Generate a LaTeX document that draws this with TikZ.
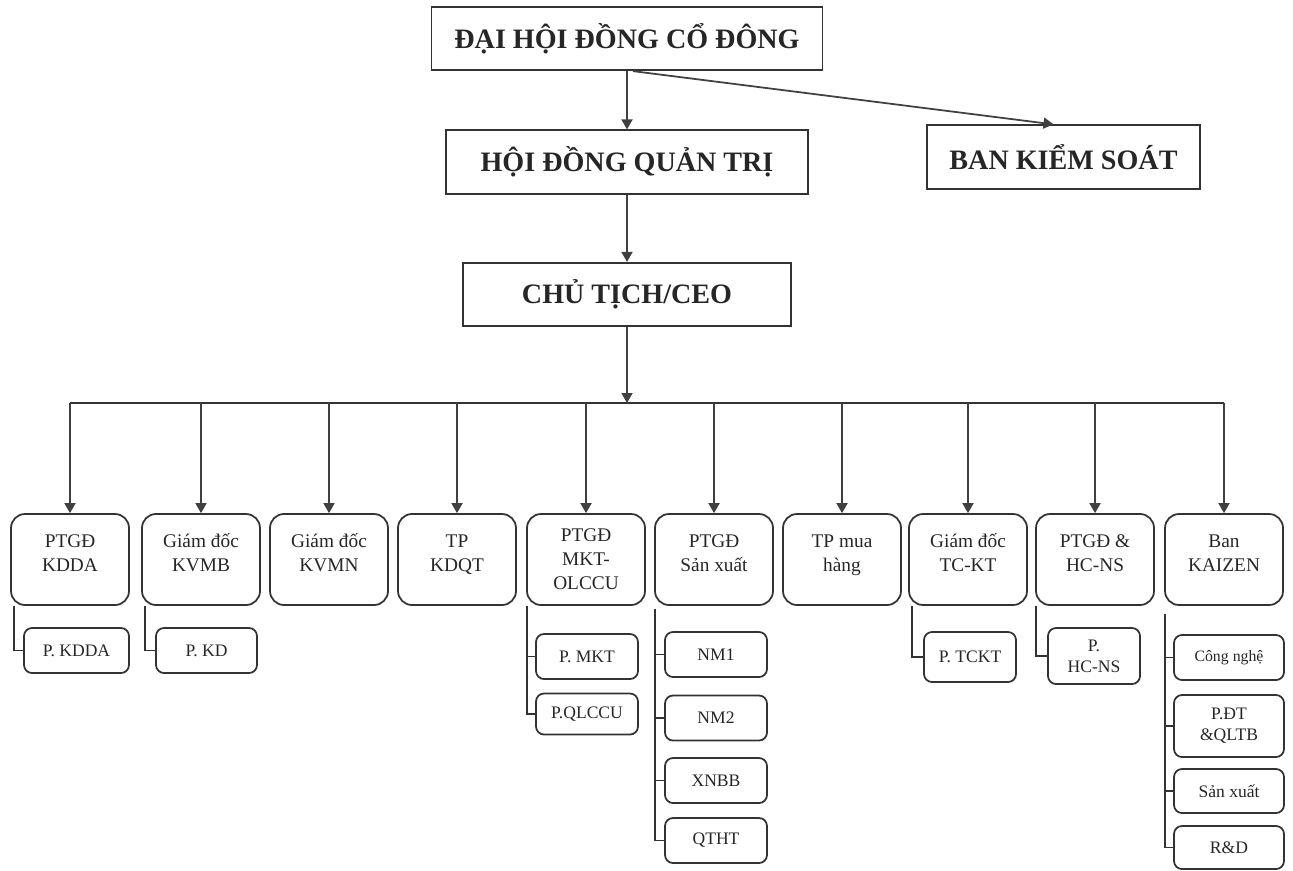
\documentclass[tikz,border=0pt]{standalone}
\usepackage{fontspec}
\setmainfont{Liberation Serif}
\usetikzlibrary{arrows.meta, positioning}

\begin{document}
\begin{tikzpicture}[
    x=0.02cm, y=-0.02cm,
    topbox/.style={draw=black!80, line width=1pt, minimum height=1.27cm, font=\fontsize{16}{19}\selectfont\bfseries, text=black!85},
    unit/.style={draw=black!80, line width=1pt, rounded corners=0.28cm, minimum width=2.36cm, minimum height=1.82cm, align=center, font=\fontsize{11}{13.6}\selectfont, text=black!85},
    dept/.style={draw=black!80, line width=1pt, rounded corners=0.16cm, minimum width=2.04cm, minimum height=0.9cm, inner sep=1pt, align=center, font=\fontsize{10}{12}\selectfont, text=black!85},
    arr/.style={-{Triangle[length=0.2cm, width=0.22cm]}, line width=1pt, draw=black!75},
    link/.style={line width=1pt, draw=black!80},
]
\useasboundingbox (0,0) rectangle (1293,870);

% Top levels
\node[topbox, minimum width=7.82cm] (dhcd) at (627,38.5) {ĐẠI HỘI ĐỒNG CỔ ĐÔNG};
\node[topbox, minimum width=7.24cm] (hdqt) at (627,162) {HỘI ĐỒNG QUẢN TRỊ};
\node[topbox, minimum width=5.46cm] (bks) at (1063.5,157) {BAN KIỂM SOÁT};
\node[topbox, minimum width=6.56cm] (ceo) at (627,294.5) {CHỦ TỊCH/CEO};

\draw[arr] (dhcd) -- (hdqt);
\draw[arr] ([xshift=0.12cm]dhcd.south) -- ([xshift=-0.2cm]bks.north);
\draw[arr] (hdqt) -- (ceo);

% Units under the CEO (two-line texts sit a little high, as in the chart)
\coordinate (bus) at (627,403);
\foreach \n/\x/\txt in {1/70/{PTGĐ\\KDDA\\[-6pt]\mbox{}}, 2/201/{Giám đốc\\KVMB\\[-6pt]\mbox{}}, 3/329/{Giám đốc\\KVMN\\[-6pt]\mbox{}},
    4/457/{TP\\KDQT\\[-6pt]\mbox{}}, 5/586/{PTGĐ\\MKT-\\OLCCU}, 6/714/{PTGĐ\\Sản xuất\\[-6pt]\mbox{}}, 7/842/{TP mua\\hàng\\[-6pt]\mbox{}},
    8/968/{Giám đốc\\TC-KT\\[-6pt]\mbox{}}, 9/1095/{PTGĐ \&\\HC-NS\\[-6pt]\mbox{}}, 10/1224/{Ban\\KAIZEN\\[-6pt]\mbox{}}}
    \node[unit] (u\n) at (\x,559.5) {\txt};

\draw[arr] (ceo) -- (bus);
\draw[link] (bus -| u1.north) -- (bus -| u10.north);
\foreach \n in {1,...,10}
    \draw[arr] (bus -| u\n.north) -- (u\n.north);

% Departments
\node[dept, minimum width=2.1cm] (kdda) at (76.5,650.5) {P. KDDA};
\node[dept, minimum width=2.02cm] (kd) at (206.5,650.5) {P. KD};
\node[dept] (mkt) at (587,656.5) {P. MKT};
\node[dept, minimum height=0.82cm] (qlccu) at (587,714) {P.QLCCU};
\node[dept] (nm1) at (716,654.5) {NM1};
\node[dept] (nm2) at (716,718) {NM2};
\node[dept] (xnbb) at (716,780.5) {XNBB};
\node[dept] (qtht) at (716,840.5) {QTHT};
\node[dept, minimum width=1.84cm, minimum height=1cm] (tckt) at (970,657) {P. TCKT};
\node[dept, minimum width=1.84cm, minimum height=1.12cm] (hcns) at (1094,656) {P.\\HC-NS};
\node[dept, minimum width=2.2cm, font=\fontsize{9}{11}\selectfont] (cn) at (1229,657.5) {Công nghệ};
\node[dept, minimum width=2.2cm, minimum height=1.24cm] (dtqltb) at (1229,726) {P.ĐT\\\&QLTB};
\node[dept, minimum width=2.2cm, minimum height=0.88cm] (sx) at (1229,791) {Sản xuất};
\node[dept, minimum width=2.2cm, minimum height=0.86cm] (rd) at (1229,847.5) {R\&D};

\draw[link] ([xshift=0.08cm]u1.south west) |- (kdda.west);
\draw[link] ([xshift=0.08cm]u2.south west) |- (kd.west);
\draw[link] ([xshift=0.02cm]u5.south west) |- (mkt.west);
\draw[link] ([xshift=0.02cm]u5.south west) |- (qlccu.west);
\foreach \d in {nm1, nm2, xnbb, qtht}
    \draw[link] ([xshift=0.02cm, yshift=-0.06cm]u6.south west) |- (\d.west);
\draw[link] ([xshift=0.08cm]u8.south west) |- (tckt.west);
\draw[link] ([xshift=0.02cm]u9.south west) |- (hcns.west);
\foreach \d in {cn, dtqltb, sx, rd}
    \draw[link] ([xshift=0.02cm, yshift=-0.16cm]u10.south west) |- (\d.west);

\end{tikzpicture}
\end{document}
